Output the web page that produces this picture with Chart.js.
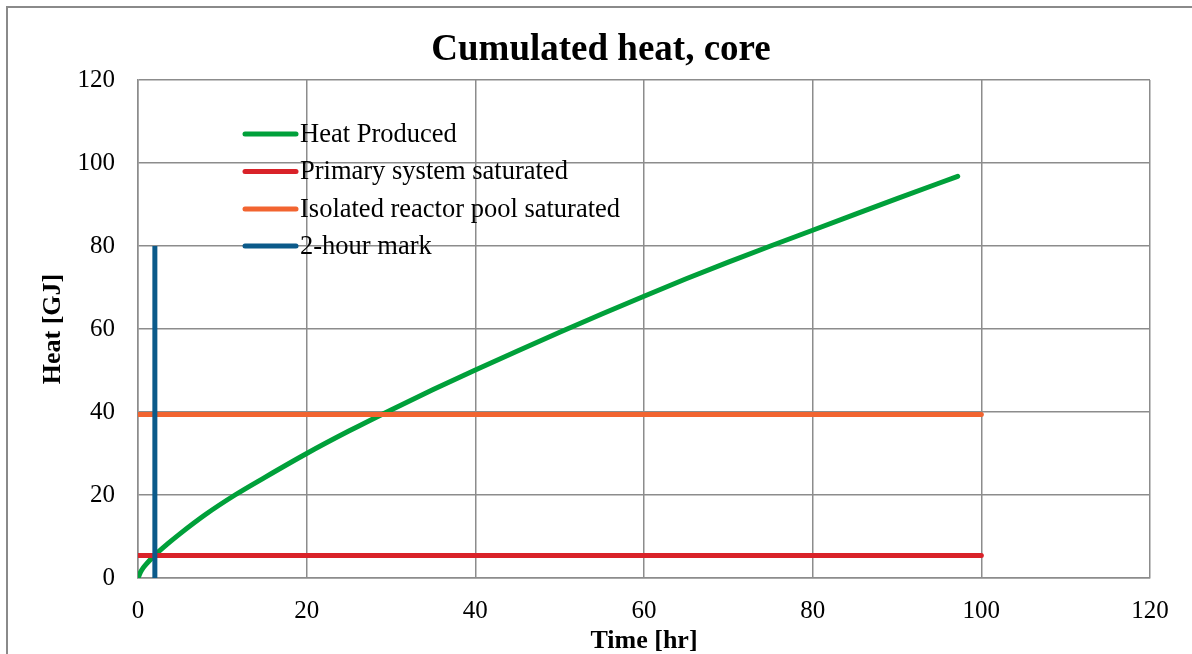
<!DOCTYPE html>
<html>
<head>
<meta charset="utf-8">
<script src="https://cdn.jsdelivr.net/npm/chart.js@4"></script>
<style>
html,body{margin:0;padding:0;background:#fff;}
#wrap{width:1192px;height:654px;position:relative;}
</style>
</head>
<body>
<div id="wrap"><canvas id="c" width="1192" height="654"></canvas></div>
<script>
const chartTitle = "Cumulated heat, core";
const xAxisTitle = "Time [hr]";
const yAxisTitle = "Heat [GJ]";
const seriesLabels = ["Heat Produced", "Primary system saturated", "Isolated reactor pool saturated", "2-hour mark"];

const heatTime  = [0, 0.3, 0.63, 1, 2, 3.5, 5, 8, 11.5, 15, 20, 25, 30, 35, 40, 45, 50, 55, 60, 65, 70, 75, 80, 85, 90, 97.2];
const heatValue = [0, 1.4, 2.5, 3.4, 5.5, 8.2, 10.7, 15.3, 20, 24.2, 30.0, 35.4, 40.5, 45.4, 50.1, 54.7, 59.2, 63.6, 67.9, 72.1, 76.1, 80.0, 83.8, 87.6, 91.4, 96.8];

const primaryTime  = [0, 100];
const primaryValue = [5.4, 5.4];
const poolTime  = [0, 100];
const poolValue = [39.4, 39.4];
const markTime  = [2, 2];
const markValue = [0, 80];

const xTicks = [0, 20, 40, 60, 80, 100, 120];
const yTicks = [0, 20, 40, 60, 80, 100, 120];

const colors = ["#00a03a", "#d92229", "#f26430", "#0b5a8a"];

function pts(xs, ys){ return xs.map((x,i)=>({x:x, y:ys[i]})); }

const FONT = "'Liberation Serif','Times New Roman',serif";

const framePlugin = {
  id: 'frame',
  beforeDraw(chart){
    const ctx = chart.ctx;
    ctx.save();
    ctx.fillStyle = '#ffffff';
    ctx.fillRect(0,0,chart.width,chart.height);
    ctx.strokeStyle = '#8a8a8a';
    ctx.lineWidth = 2;
    ctx.strokeRect(7, 7, 1400, 1000);
    ctx.restore();
  },
  afterDraw(chart){
    const ctx = chart.ctx;
    ctx.save();
    ctx.fillStyle = '#000';
    ctx.font = "bold 37px " + FONT;
    ctx.textAlign = 'center';
    ctx.textBaseline = 'middle';
    ctx.fillText(chartTitle, 601, 50);
    ctx.font = "26.5px " + FONT;
    ctx.textAlign = 'left';
    const rowsY = [134, 171.5, 209, 246];
    chart.data.datasets.forEach((ds, i) => {
      const y = rowsY[i];
      ctx.strokeStyle = ds.borderColor;
      ctx.lineWidth = 5;
      ctx.lineCap = 'round';
      ctx.beginPath();
      ctx.moveTo(245, y);
      ctx.lineTo(296, y);
      ctx.stroke();
      ctx.fillStyle = '#000';
      ctx.fillText(ds.label, 300, y + 1);
    });
    ctx.restore();
  }
};

new Chart(document.getElementById('c'), {
  type: 'line',
  data: {
    datasets: [
      { label: seriesLabels[0], data: pts(heatTime, heatValue), borderColor: colors[0], borderWidth: 5, pointRadius: 0, cubicInterpolationMode: 'monotone', borderCapStyle: 'round', order: 4, fill: false },
      { label: seriesLabels[1], data: pts(primaryTime, primaryValue), borderColor: colors[1], borderWidth: 5, pointRadius: 0, borderCapStyle: 'round', order: 3, fill: false },
      { label: seriesLabels[2], data: pts(poolTime, poolValue), borderColor: colors[2], borderWidth: 5, pointRadius: 0, borderCapStyle: 'round', order: 2, fill: false },
      { label: seriesLabels[3], data: pts(markTime, markValue), borderColor: colors[3], borderWidth: 5, pointRadius: 0, borderCapStyle: 'butt', order: 1, fill: false }
    ]
  },
  options: {
    responsive: false,
    animation: false,
    devicePixelRatio: 1,
    layout: { padding: { top: 80, right: 42, bottom: 0, left: 0 } },
    plugins: { legend: { display: false }, title: { display: false }, tooltip: { enabled: false } },
    scales: {
      x: {
        type: 'linear', min: 0, max: 120,
        afterBuildTicks(scale){ scale.ticks = xTicks.map(v => ({value: v})); },
        afterFit(scale){ scale.height = 76; },
        grid: { color: '#8c8c8c', lineWidth: 1.5, drawTicks: false },
        border: { color: '#8c8c8c', width: 1.5 },
        ticks: { color: '#000', font: { family: FONT, size: 25 }, padding: 18, maxRotation: 0 },
        title: { display: true, text: xAxisTitle, color: '#000', font: { family: FONT, size: 26, weight: 'bold', lineHeight: 1 }, padding: { top: 1, bottom: 0 } }
      },
      y: {
        type: 'linear', min: 0, max: 120,
        afterBuildTicks(scale){ scale.ticks = yTicks.map(v => ({value: v})); },
        afterFit(scale){ scale.width = 138; },
        grid: { color: '#8c8c8c', lineWidth: 1.5, drawTicks: false },
        border: { color: '#8c8c8c', width: 1.5 },
        ticks: { color: '#000', font: { family: FONT, size: 25 }, padding: 23 },
        title: { display: true, text: yAxisTitle, color: '#000', font: { family: FONT, size: 26, weight: 'bold', lineHeight: 1 }, padding: { top: 40, bottom: 0 } }
      }
    }
  },
  plugins: [framePlugin]
});
</script>
</body>
</html>
